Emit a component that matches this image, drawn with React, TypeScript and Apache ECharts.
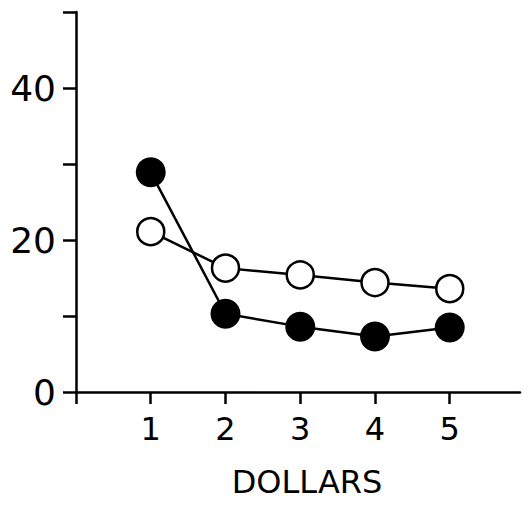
import React, { useEffect, useRef } from "react";
import * as echarts from "echarts";

const dollars = [1, 2, 3, 4, 5];
const filledValues = [28.9, 10.3, 8.6, 7.3, 8.5];
const openValues = [21.1, 16.3, 15.4, 14.4, 13.6];
const xTickValues = [0, 1, 2, 3, 4, 5];
const xLabelValues = [1, 2, 3, 4, 5];
const yLabelValues = [0, 20, 40];

export default function App() {
  const ref = useRef<HTMLDivElement>(null);
  useEffect(() => {
    if (!ref.current) return;
    const chart = echarts.init(ref.current, undefined, { renderer: "svg" });
    const font = "DejaVu Sans";
    chart.setOption({
      animation: false,
      backgroundColor: "#ffffff",
      grid: { left: 76, right: 8, top: 12, bottom: 119 },
      xAxis: {
        type: "value",
        min: 0,
        max: 5.94,
        name: "DOLLARS",
        nameLocation: "middle",
        nameGap: 74,
        nameTextStyle: { fontFamily: font, fontSize: 32, color: "#000", padding: [0, 0, 0, 18] },
        axisLine: { show: true, onZero: false, lineStyle: { color: "#000", width: 2.5 } },
        axisTick: { show: true, inside: false, length: 12, customValues: xTickValues, lineStyle: { color: "#000", width: 2.5 } },
        axisLabel: { customValues: xLabelValues, margin: 21, fontFamily: font, fontSize: 32, color: "#000" },
        splitLine: { show: false },
      },
      yAxis: {
        type: "value",
        min: 0,
        max: 50,
        interval: 10,
        axisLine: { show: true, lineStyle: { color: "#000", width: 2.5 } },
        axisTick: { show: true, inside: false, length: 13, lineStyle: { color: "#000", width: 2.5 } },
        axisLabel: {
          margin: 20,
          fontFamily: font,
          fontSize: 36,
          color: "#000",
          formatter: (v: number) => (yLabelValues.includes(v) ? String(v) : ""),
        },
        splitLine: { show: false },
      },
      series: [
        {
          type: "line",
          data: dollars.map((d, i) => [d, openValues[i]]),
          symbol: "circle",
          symbolSize: 27,
          lineStyle: { color: "#000", width: 2.5 },
          itemStyle: { color: "#fff", borderColor: "#000", borderWidth: 2.5 },
          z: 3,
        },
        {
          type: "line",
          data: dollars.map((d, i) => [d, filledValues[i]]),
          symbol: "circle",
          symbolSize: 30,
          lineStyle: { color: "#000", width: 2.5 },
          itemStyle: { color: "#000", borderColor: "#000", borderWidth: 0 },
          z: 2,
        },
      ],
    });
    return () => chart.dispose();
  }, []);
  return (
    <div
      ref={ref}
      style={{ position: "fixed", left: 0, top: 0, width: 528, height: 511 }}
    />
  );
}
